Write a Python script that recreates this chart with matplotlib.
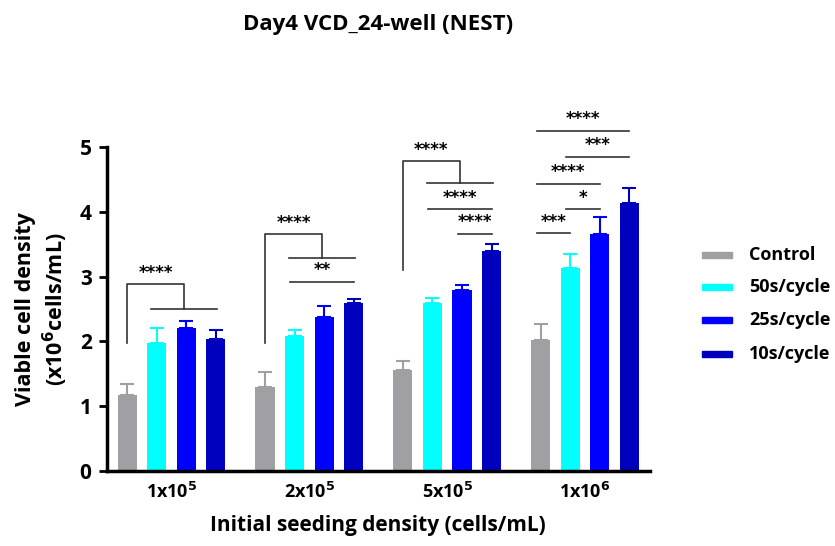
import matplotlib
matplotlib.use("Agg")
import matplotlib.pyplot as plt
import numpy as np
from matplotlib.patches import Rectangle

plt.rcParams['font.family'] = ['Open Sans', 'DejaVu Sans']
plt.rcParams['font.weight'] = 'bold'

groups = ["1x10$^{5}$", "2x10$^{5}$", "5x10$^{5}$", "1x10$^{6}$"]
series = ["Control", "50s/cycle", "25s/cycle", "10s/cycle"]
colors = ["#A0A0A4", "#00FFFF", "#0000FF", "#0000BF"]

control = [1.17, 1.30, 1.56, 2.02]
s50 = [1.98, 2.09, 2.59, 3.14]
s25 = [2.21, 2.38, 2.79, 3.65]
s10 = [2.04, 2.59, 3.40, 4.14]
values = [control, s50, s25, s10]

control_err = [0.17, 0.23, 0.14, 0.25]
s50_err = [0.22, 0.08, 0.08, 0.21]
s25_err = [0.11, 0.16, 0.08, 0.27]
s10_err = [0.14, 0.07, 0.11, 0.23]
errors = [control_err, s50_err, s25_err, s10_err]

# control-vs-group brackets: (group, start height, top height, drop height, label)
group_brackets = [(0, 1.97, 2.88, 2.50, "****"),
                  (1, 1.97, 3.66, 3.29, "****"),
                  (2, 3.10, 4.79, 4.44, "****")]
# pairwise lines: (group, bar_from, bar_to, height, label)
pair_lines = [(1, 1, 3, 2.92, "**"),
              (2, 1, 3, 4.04, "****"),
              (2, 2, 3, 3.66, "****"),
              (3, 0, 3, 5.25, "****"),
              (3, 1, 3, 4.85, "***"),
              (3, 0, 2, 4.43, "****"),
              (3, 1, 2, 4.04, "*"),
              (3, 0, 1, 3.67, "***")]

fig = plt.figure(figsize=(8.35, 5.46), dpi=100)
ax = fig.add_axes([0.128, 0.1374, 0.650, 0.5934])

x = np.arange(len(groups))
step = 0.214
width = 0.138
offsets = (np.arange(4) - 1.5) * step

for i in range(4):
    xs = x + offsets[i]
    ax.bar(xs, values[i], width=width, color=colors[i], zorder=2)
    ax.errorbar(xs, values[i], yerr=[np.zeros(4), errors[i]], fmt='none',
                ecolor=colors[i], elinewidth=1.5, capsize=5, capthick=1.5, zorder=1)

lc = "#333333"
lw = 1.2
star_font = dict(ha='center', va='center', fontsize=12, fontweight='bold',
                 family='DejaVu Sans', clip_on=False)

def bx(g, b):
    return x[g] + offsets[b]

for g, y0, ytop, ydrop, lab in group_brackets:
    xc = bx(g, 0)
    xl = bx(g, 1) - 0.04
    xr = bx(g, 3) + 0.01
    xm = (xl + xr) / 2
    ax.plot([xc, xc, xm, xm], [y0, ytop, ytop, ydrop], color=lc, lw=lw, clip_on=False)
    ax.plot([xl, xr], [ydrop, ydrop], color=lc, lw=lw, clip_on=False)
    ax.text((xc + xm) / 2, ytop + 0.17, lab, **star_font)

for g, b0, b1, h, lab in pair_lines:
    x0 = bx(g, b0) - 0.03
    x1 = bx(g, b1) + 0.0
    ax.plot([x0, x1], [h, h], color=lc, lw=lw, clip_on=False)
    ax.text((x0 + x1) / 2, h + 0.18, lab, **star_font)

ax.set_xlim(-0.467, 3.467)
ax.set_ylim(0, 5)
ax.set_yticks([0, 1, 2, 3, 4, 5])
ax.set_xticks(x)
ax.set_xticklabels(groups, fontsize=13, fontweight='bold')
ax.tick_params(axis='x', length=0, pad=8)
ax.tick_params(axis='y', length=6, width=2, labelsize=15, pad=5)
for t in ax.get_yticklabels():
    t.set_fontweight('bold')
for s in ['top', 'right']:
    ax.spines[s].set_visible(False)
ax.spines['left'].set_linewidth(2.5)
ax.spines['bottom'].set_linewidth(2.5)

ax.set_xlabel("Initial seeding density (cells/mL)", fontsize=15, fontweight='bold', labelpad=9)
ax.set_ylabel("Viable cell density\n(x10$^{6}$cells/mL)", fontsize=15.5, fontweight='bold', labelpad=7)
fig.text(0.453, 0.956, "Day4 VCD_24-well (NEST)", ha='center', va='center', fontsize=16, fontweight='bold')

# legend
ly = [255, 287, 320, 354]
for i, s in enumerate(series):
    yf = 1 - ly[i] / 546
    fig.patches.append(Rectangle((702 / 835, yf - 3 / 546), 30 / 835, 6 / 546,
                                 transform=fig.transFigure, color=colors[i]))
    fig.text(749 / 835, yf, s, ha='left', va='center', fontsize=13, fontweight='bold')

fig.savefig("out.png", dpi=100)
